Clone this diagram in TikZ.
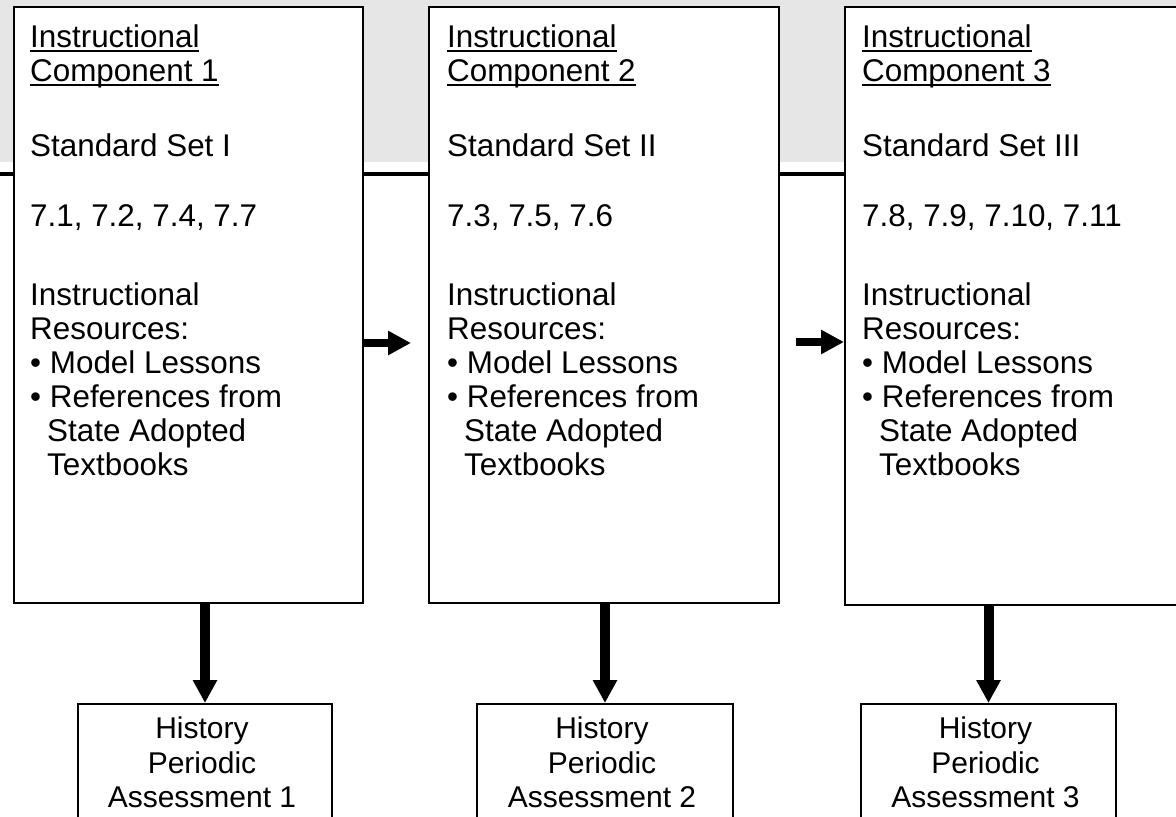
\documentclass[tikz,border=0pt]{standalone}
\usepackage{fontspec}
\setmainfont{Liberation Sans}
\usetikzlibrary{arrows.meta}
\definecolor{bandgray}{HTML}{E6E6E6}
% underline drawn as a rule a little below the baseline
\newcommand\myul[1]{\setbox0\hbox{#1}\rlap{\rule[-4pt]{\wd0}{2pt}}\box0}
\begin{document}
\begin{tikzpicture}[x=1pt,y=-1pt,
  compbox/.style={draw=black, line width=2pt, fill=white, anchor=north west, inner sep=0pt},
  bodytext/.style={anchor=north west, align=left, inner sep=0pt, font=\fontsize{31.4}{34}\selectfont},
  assessbox/.style={draw=black, line width=2pt, fill=white, anchor=north west, inner sep=0pt},
  asstext/.style={anchor=north, align=center, inner sep=0pt, font=\fontsize{30}{34.5}\selectfont},
  harrow/.style={line width=8pt, -{Triangle[length=23pt,width=23pt]}},
  varrow/.style={line width=10pt, -{Triangle[length=23pt,width=23pt]}}]
\useasboundingbox (0,0) rectangle (1176,817);
\clip (0,0) rectangle (1176,817);

% grey band and rule across the top
\fill[bandgray] (0,0) rectangle (1176,162);
\draw[line width=4pt] (0,174) -- (1176,174);

% instructional components
\node[compbox, minimum width=349pt, minimum height=596pt] (c1) at (13,6) {};
\node[compbox, minimum width=350pt, minimum height=596pt] (c2) at (428,6) {};
\node[compbox, minimum width=400pt, minimum height=598pt] (c3) at (844,6) {};

\node[bodytext] (t1) at (30,25) {\myul{Instructional}\\ \myul{Component 1}\\[41pt]
  Standard Set I\\[36pt] 7.1, 7.2, 7.4, 7.7\\[45pt] Instructional\\ Resources:\\
  \textbullet\ Model Lessons\\ \textbullet\ References from\\
  \hspace*{17pt}State Adopted\\ \hspace*{17pt}Textbooks};
\node[bodytext] (t2) at (447,25) {\myul{Instructional}\\ \myul{Component 2}\\[41pt]
  Standard Set II\\[36pt] 7.3, 7.5, 7.6\\[45pt] Instructional\\ Resources:\\
  \textbullet\ Model Lessons\\ \textbullet\ References from\\
  \hspace*{17pt}State Adopted\\ \hspace*{17pt}Textbooks};
\node[bodytext] (t3) at (862,25) {\myul{Instructional}\\ \myul{Component 3}\\[41pt]
  Standard Set III\\[36pt] 7.8, 7.9, 7.10, 7.11\\[45pt] Instructional\\ Resources:\\
  \textbullet\ Model Lessons\\ \textbullet\ References from\\
  \hspace*{17pt}State Adopted\\ \hspace*{17pt}Textbooks};

% periodic assessments
\node[assessbox, minimum width=254pt, minimum height=200pt] (b1) at (77,703) {};
\node[assessbox, minimum width=256pt, minimum height=200pt] (b2) at (476,703) {};
\node[assessbox, minimum width=255pt, minimum height=200pt] (b3) at (860,703) {};

\node[asstext] (a1) at ([xshift=-3pt]b1.north |- 0,717) {History\\ Periodic\\ Assessment 1};
\node[asstext] (a2) at ([xshift=-3pt]b2.north |- 0,717) {History\\ Periodic\\ Assessment 2};
\node[asstext] (a3) at ([xshift=-3pt]b3.north |- 0,717) {History\\ Periodic\\ Assessment 3};

% arrows between components
\coordinate (h1end) at (411,343);
\coordinate (h2start) at (796,342);
\draw[harrow] (c1.east |- h1end) -- (h1end);
\draw[harrow] (h2start) -- (c3.west |- h2start);

% arrows down to the assessments
\draw[varrow] (c1.south -| b1.north) -- (b1.north);
\draw[varrow] (c2.south -| b2.north) -- (b2.north);
\draw[varrow] (c3.south -| b3.north) -- (b3.north);
\end{tikzpicture}
\end{document}
